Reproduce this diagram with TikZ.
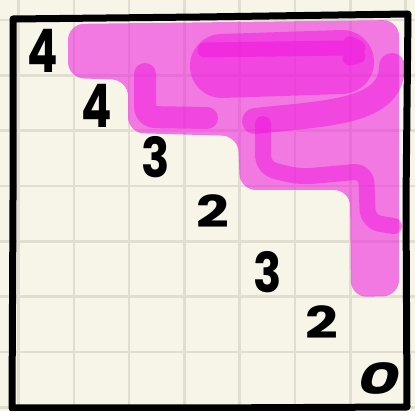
\documentclass[tikz,border=0pt]{standalone}
\usepackage{fontspec}
\setmainfont{Poppins}
\definecolor{paper}{RGB}{247,245,232}
\definecolor{gridc}{RGB}{223,222,208}
\definecolor{hl}{RGB}{240,20,222}
\tikzset{
  gridline/.style={draw=gridc, line width=2.6},
  hlfill/.style={fill=hl, fill opacity=0.55},
  hlline/.style={draw=hl, draw opacity=0.5, line cap=round, line join=round},
  frame/.style={draw=black, line width=7, line join=round, line cap=round},
  digit/.style={inner sep=0, text=black, font=\bfseries}
}
\begin{document}
\begin{tikzpicture}[x=1pt,y=-1pt]
\useasboundingbox (0,0) rectangle (415,411);
\fill[paper] (0,0) rectangle (415,411);
\foreach \i in {0,...,7} {
  \draw[gridline] (18.5+55.3*\i,0) -- ++(0,411);
  \draw[gridline] (0,20.2+55.3*\i) -- ++(415,0);
}
% highlighter base
\fill[hlfill, rounded corners=16] (68,24) -- (399,20) -- (399,296) -- (351,297) -- (350,190) -- (240,190) -- (238,136) -- (128,133) -- (128,80) -- (68,78) -- cycle;
% wide medium stroke
\draw[hlline, line width=64] (222,66) -- (342,62);
% dark top band
\draw[hlline, line width=15] (205,50) -- (345,48) (350,44) -- (358,48) (350,58) -- (358,56);
% L stroke in row 1
\draw[hlline, line width=22, rounded corners=10] (145,74) -- (145,117) -- (207,118);
% scalloped stroke
\draw[hlline, line width=26] (255,121) .. controls (330,113) and (392,112) .. (392,66);
% L stroke in row 2
\draw[hlline, line width=16, rounded corners=12] (263,124) -- (263,168) -- (300,177) -- (366,171) -- (368,222) -- (394,226);
% frame
\draw[frame] (13,19) -- (200,17) -- (408,14) -- (406,200) -- (407,407) -- (200,408) -- (12,408) -- (13,200) -- cycle;
% digits
\node[digit, font=\bfseries\fontsize{60}{60}\selectfont, xscale=0.75] (n1) at (43,51) {4};
\node[digit, font=\bfseries\fontsize{60}{60}\selectfont, xscale=0.75] (n2) at (97,106) {4};
\node[digit, font=\bfseries\fontsize{55}{55}\selectfont, xscale=0.85] (n3) at (156,157) {3};
\node[digit, font=\bfseries\fontsize{44}{44}\selectfont, xscale=1.3] (n4) at (213,211) {2};
\node[digit, font=\bfseries\fontsize{55}{55}\selectfont, xscale=0.85] (n5) at (268,272) {3};
\node[digit, font=\bfseries\fontsize{44}{44}\selectfont, xscale=1.3] (n6) at (322,322) {2};
\node[digit, font=\bfseries\itshape\fontsize{44}{44}\selectfont, xscale=1.45] (n7) at (379,379) {0};
\end{tikzpicture}
\end{document}
